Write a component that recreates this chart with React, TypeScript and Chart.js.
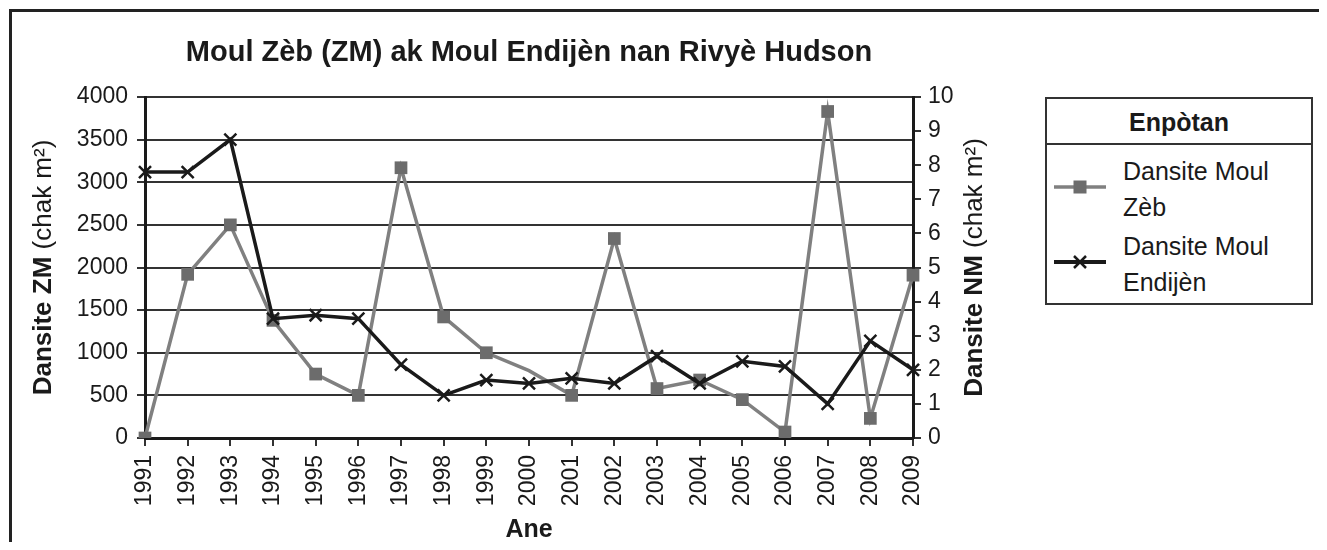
import React, { useEffect, useRef } from "react";
import { Chart, registerables } from "chart.js";

Chart.register(...registerables);

// ---- data ----
const years = [
  "1991", "1992", "1993", "1994", "1995", "1996", "1997", "1998", "1999", "2000",
  "2001", "2002", "2003", "2004", "2005", "2006", "2007", "2008", "2009",
];
// Zebra mussel density (left axis, per m²)
const zebraDensity = [0, 1920, 2500, 1380, 750, 500, 3170, 1420, 1000, 790, 500, 2340, 580, 680, 450, 70, 3830, 230, 1910];
// Native mussel density (right axis, per m²)
const nativeDensity = [7.8, 7.8, 8.75, 3.5, 3.6, 3.5, 2.15, 1.25, 1.7, 1.6, 1.75, 1.6, 2.4, 1.6, 2.25, 2.1, 1.0, 2.85, 2.0];
// index of the zebra point that shows no marker in the original
const zebraHiddenMarkers = [9];

const leftTicks = { min: 0, max: 4000, step: 500 };
const rightTicks = { min: 0, max: 10, step: 1 };

const chartTitle = "Moul Zèb (ZM) ak Moul Endijèn nan Rivyè Hudson";
const leftTitleBold = "Dansite ZM";
const rightTitleBold = "Dansite NM";
const unitText = "(chak m²)";
const xTitle = "Ane";
const legendTitle = "Enpòtan";
const seriesNames = [
  ["Dansite Moul", "Zèb"],
  ["Dansite Moul", "Endijèn"],
];

const FONT = "'Liberation Sans', Arial, Helvetica, sans-serif";
const GRAY_LINE = "#808080";
const GRAY_MARK = "#6c6c6c";
const BLACK = "#1a1a1a";

const CANVAS_W = 1020;
const CANVAS_H = 534;

const axisTitlePlugin = {
  id: "axisTitlesCustom",
  afterDraw(chart: any) {
    const { ctx, chartArea } = chart;
    const cy = (chartArea.top + chartArea.bottom) / 2;
    const drawVertical = (cx: number, bold: string, reg: string) => {
      ctx.save();
      ctx.translate(cx, cy);
      ctx.rotate(-Math.PI / 2);
      ctx.fillStyle = BLACK;
      ctx.textBaseline = "middle";
      ctx.textAlign = "left";
      ctx.font = `bold 26px ${FONT}`;
      const w1 = ctx.measureText(bold + " ").width;
      ctx.font = `26px ${FONT}`;
      const w2 = ctx.measureText(reg).width;
      const start = -(w1 + w2) / 2;
      ctx.font = `bold 26px ${FONT}`;
      ctx.fillText(bold + " ", start, 0);
      ctx.font = `26px ${FONT}`;
      ctx.fillText(reg, start + w1, 0);
      ctx.restore();
    };
    drawVertical(36, leftTitleBold, unitText);
    drawVertical(967, rightTitleBold, unitText);

    ctx.save();
    ctx.fillStyle = BLACK;
    ctx.font = `bold 25px ${FONT}`;
    ctx.textAlign = "center";
    ctx.textBaseline = "middle";
    ctx.fillText(xTitle, (chartArea.left + chartArea.right) / 2, 522);
    ctx.restore();
  },
};

function LegendSample({ kind }: { kind: "square" | "cross" }) {
  if (kind === "square") {
    return (
      <svg width={52} height={20} style={{ display: "block" }}>
        <line x1={0} y1={10} x2={52} y2={10} stroke={GRAY_LINE} strokeWidth={3.5} />
        <rect x={19.5} y={3.5} width={13} height={13} fill={GRAY_MARK} />
      </svg>
    );
  }
  return (
    <svg width={52} height={20} style={{ display: "block" }}>
      <line x1={0} y1={10} x2={52} y2={10} stroke={BLACK} strokeWidth={4} />
      <line x1={20} y1={4} x2={32} y2={16} stroke={BLACK} strokeWidth={2.5} />
      <line x1={32} y1={4} x2={20} y2={16} stroke={BLACK} strokeWidth={2.5} />
    </svg>
  );
}

export default function App() {
  const canvasRef = useRef<HTMLCanvasElement | null>(null);

  useEffect(() => {
    if (!canvasRef.current) return;
    const chart = new Chart(canvasRef.current, {
      type: "line",
      data: {
        labels: years,
        datasets: [
          {
            label: seriesNames[0].join(" "),
            data: zebraDensity,
            yAxisID: "y",
            order: 1,
            borderColor: GRAY_LINE,
            borderWidth: 3.5,
            pointStyle: "rect",
            pointRadius: zebraDensity.map((_, i) => (zebraHiddenMarkers.includes(i) ? 0 : 9)),
            pointBackgroundColor: GRAY_MARK,
            pointBorderColor: GRAY_MARK,
            pointBorderWidth: 0,
            tension: 0,
          },
          {
            label: seriesNames[1].join(" "),
            data: nativeDensity,
            yAxisID: "y1",
            order: 0,
            borderColor: BLACK,
            borderWidth: 3.5,
            pointStyle: "crossRot",
            pointRadius: 8.5,
            pointBorderColor: BLACK,
            pointBorderWidth: 2.5,
            tension: 0,
          },
        ],
      },
      options: {
        animation: false,
        responsive: false,
        maintainAspectRatio: false,
        layout: { padding: 0 },
        plugins: {
          legend: { display: false },
          tooltip: { enabled: false },
          title: {
            display: true,
            text: chartTitle,
            fullSize: false,
            color: BLACK,
            font: { family: FONT, size: 29, weight: "bold", lineHeight: 1.2 },
            padding: { top: 28, bottom: 26.2 },
          },
        },
        scales: {
          x: {
            type: "category",
            offset: false,
            grid: { drawOnChartArea: false, drawTicks: true, tickLength: 8, color: "#333", lineWidth: 2 },
            border: { display: true, color: BLACK, width: 3 },
            ticks: {
              autoSkip: false,
              minRotation: 90,
              maxRotation: 90,
              padding: 9,
              color: BLACK,
              font: { family: FONT, size: 23 },
            },
            afterFit: (s: any) => {
              s.height = 104;
            },
          },
          y: {
            position: "left",
            min: leftTicks.min,
            max: leftTicks.max,
            grid: { drawOnChartArea: true, drawTicks: true, tickLength: 8, color: "#333", lineWidth: 2 },
            border: { display: true, color: BLACK, width: 3 },
            ticks: {
              stepSize: leftTicks.step,
              padding: 9,
              color: BLACK,
              font: { family: FONT, size: 23 },
              callback: (v: any) => String(v),
            },
            afterFit: (s: any) => {
              s.width = 137;
            },
          },
          y1: {
            position: "right",
            min: rightTicks.min,
            max: rightTicks.max,
            grid: { drawOnChartArea: false, drawTicks: true, tickLength: 8, color: "#333", lineWidth: 2 },
            border: { display: true, color: BLACK, width: 3 },
            ticks: {
              stepSize: rightTicks.step,
              padding: 7,
              color: BLACK,
              font: { family: FONT, size: 23 },
              callback: (v: any) => String(v),
            },
            afterFit: (s: any) => {
              s.width = CANVAS_W - 905;
            },
          },
        },
      },
      plugins: [axisTitlePlugin],
    } as any);
    return () => chart.destroy();
  }, []);

  const textStyle: React.CSSProperties = {
    position: "absolute",
    fontFamily: FONT,
    fontSize: 25,
    lineHeight: "30px",
    color: BLACK,
    whiteSpace: "nowrap",
  };

  const itemTops = [
    [147.6, 184.3],
    [223.3, 259.3],
  ];
  const sampleTops = [168.7, 243.7];

  return (
    <div style={{ position: "relative", width: 1311, height: 534, overflow: "hidden", background: "#fff" }}>
      <div
        style={{
          position: "absolute",
          left: 1,
          top: 1,
          width: 1310,
          height: 533,
          borderTop: "3px solid #222",
          borderLeft: "3px solid #222",
          boxSizing: "border-box",
        }}
      />
      <canvas
        ref={canvasRef}
        width={CANVAS_W}
        height={CANVAS_H}
        style={{ position: "absolute", left: 0, top: 0, width: CANVAS_W, height: CANVAS_H }}
      />
      {/* legend */}
      <div
        style={{
          position: "absolute",
          left: 1037,
          top: 89,
          width: 268,
          height: 208,
          border: "2px solid #333",
          boxSizing: "border-box",
        }}
      />
      <div
        style={{
          position: "absolute",
          left: 1037,
          top: 135,
          width: 268,
          height: 2,
          background: "#333",
        }}
      />
      <div style={{ ...textStyle, left: 1037, width: 268, top: 99, textAlign: "center", fontWeight: "bold" }}>
        {legendTitle}
      </div>
      {seriesNames.map((lines, i) => (
        <React.Fragment key={i}>
          <div style={{ position: "absolute", left: 1046, top: sampleTops[i] }}>
            <LegendSample kind={i === 0 ? "square" : "cross"} />
          </div>
          {lines.map((ln, j) => (
            <div key={j} style={{ ...textStyle, left: 1115, top: itemTops[i][j] }}>
              {ln}
            </div>
          ))}
        </React.Fragment>
      ))}
    </div>
  );
}
